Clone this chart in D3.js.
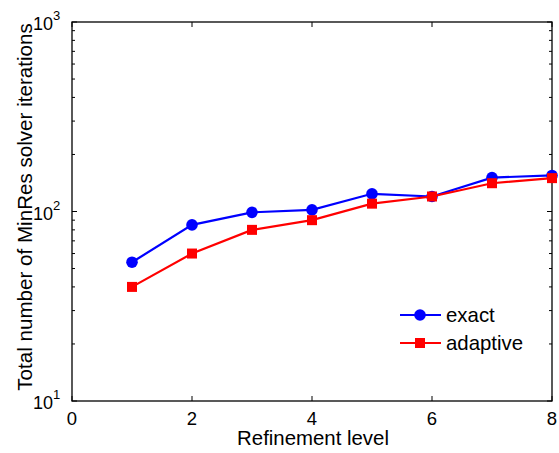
<!DOCTYPE html>
<html>
<head>
<meta charset="utf-8">
<script src="https://cdn.jsdelivr.net/npm/d3@7"></script>
<style>
  body { margin: 0; background: #fff; }
  text { font-family: "Liberation Sans", Arial, Helvetica, sans-serif; fill: #000; }
</style>
</head>
<body>
<svg id="chart" width="559" height="453"></svg>
<script>
// refinement levels and iteration counts
const levels = [1, 2, 3, 4, 5, 6, 7, 8];
const exactIters = [54, 85, 99, 102, 124, 120, 151, 155];
const adaptiveIters = [40, 60, 80, 90, 110, 120, 141, 150];
const xTicks = [0, 2, 4, 6, 8];
const yDecades = [1, 2, 3];

const svg = d3.select("#chart");
const plotLeft = 72, plotRight = 552, plotTop = 22, plotBottom = 401;

const x = d3.scaleLinear().domain([0, 8]).range([plotLeft, plotRight]);
const y = d3.scaleLog().domain([10, 1000]).range([plotBottom, plotTop]);

// ticks pointing inward, like matlab
const tickLen = 5;
const g = svg.append("g");

xTicks.forEach(function (t) {
    g.append("line").attr("x1", x(t)).attr("x2", x(t)).attr("y1", plotBottom).attr("y2", plotBottom - tickLen)
        .attr("stroke", "#000");
    g.append("line").attr("x1", x(t)).attr("x2", x(t)).attr("y1", plotTop).attr("y2", plotTop + tickLen)
        .attr("stroke", "#000");
    g.append("text").attr("x", x(t)).attr("y", plotBottom + 24)
        .attr("text-anchor", "middle").attr("font-size", 18.5).text(t);
});

let minor = [];
[10, 100].forEach(function (base) {
    for (let k = 2; k <= 9; k++) minor.push(base * k);
});
minor.forEach(function (v) {
    g.append("line").attr("x1", plotLeft).attr("x2", plotLeft + 3).attr("y1", y(v)).attr("y2", y(v)).attr("stroke", "#000");
    g.append("line").attr("x1", plotRight).attr("x2", plotRight - 3).attr("y1", y(v)).attr("y2", y(v)).attr("stroke", "#000");
});

yDecades.forEach(function (e) {
    let v = Math.pow(10, e);
    g.append("line").attr("x1", plotLeft).attr("x2", plotLeft + tickLen).attr("y1", y(v)).attr("y2", y(v)).attr("stroke", "#000");
    g.append("line").attr("x1", plotRight).attr("x2", plotRight - tickLen).attr("y1", y(v)).attr("y2", y(v)).attr("stroke", "#000");
    g.append("text").attr("x", plotLeft - 19).attr("y", y(v) + 8)
        .attr("text-anchor", "end").attr("font-size", 18).text("10");
    g.append("text").attr("x", plotLeft - 19).attr("y", y(v) - 2)
        .attr("font-size", 13).text(e);
});

g.append("rect").attr("x", plotLeft).attr("y", plotTop).attr("width", plotRight - plotLeft).attr("height", plotBottom - plotTop)
    .attr("fill", "none").attr("stroke", "#000").attr("stroke-width", 1.3);

// axis labels
svg.append("text").attr("x", 313).attr("y", 445)
    .attr("text-anchor", "middle").attr("font-size", 20.4).text("Refinement level");
svg.append("text").attr("transform", "translate(32,207) rotate(-90)")
    .attr("text-anchor", "middle").attr("font-size", 20.6).text("Total number of MinRes solver iterations");

const line = d3.line().x(function (d) { return x(d[0]); }).y(function (d) { return y(d[1]); });

function marker(cx, cy, color, shape) {
    if (shape === "circle") {
        svg.append("circle").attr("cx", cx).attr("cy", cy).attr("r", 5.8).attr("fill", color);
    } else {
        svg.append("rect").attr("x", cx - 5).attr("y", cy - 5).attr("width", 10).attr("height", 10).attr("fill", color);
    }
}

function series(vals, color, shape) {
    let pts = levels.map(function (l, i) { return [l, vals[i]]; });
    svg.append("path").datum(pts).attr("d", line)
        .attr("fill", "none").attr("stroke", color).attr("stroke-width", 2.2);
    pts.forEach(function (p) {
        marker(x(p[0]), y(p[1]), color, shape);
    });
}

series(exactIters, "#0000ff", "circle");
series(adaptiveIters, "#ff0000", "square");

// legend
const legendItems = [["exact", "#0000ff", "circle"], ["adaptive", "#ff0000", "square"]];
legendItems.forEach(function (d, i) {
    let ly = 315 + i * 28;
    svg.append("line").attr("x1", 400).attr("x2", 441).attr("y1", ly).attr("y2", ly)
        .attr("stroke", d[1]).attr("stroke-width", 2.2);
    marker(420, ly, d[1], d[2]);
    svg.append("text").attr("x", 446).attr("y", ly + 7).attr("font-size", 20.4).text(d[0]);
});
</script>
</body>
</html>
